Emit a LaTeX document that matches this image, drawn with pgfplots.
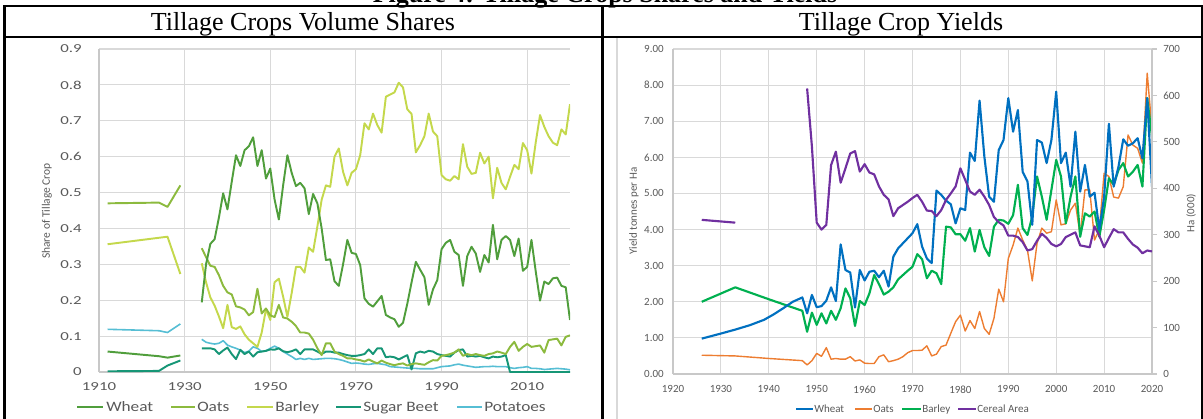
\documentclass[border=0pt]{standalone}
\usepackage{fontspec}
\setmainfont{Liberation Serif}
\newfontfamily\chartfont{Carlito}
\newfontfamily\chartwide[FakeStretch=1.38]{Carlito}
\newfontfamily\chartleg[FakeStretch=1.2]{Carlito}
\usepackage{pgfplots}
\pgfplotsset{compat=1.18}
\definecolor{gridgray}{RGB}{217,217,217}
\definecolor{axisgray}{RGB}{200,200,200}
\definecolor{labgray}{RGB}{89,89,89}
\definecolor{cWheatL}{RGB}{80,158,60}
\definecolor{cOatsL}{RGB}{140,186,62}
\definecolor{cBarleyL}{RGB}{196,216,76}
\definecolor{cBeetL}{RGB}{22,150,118}
\definecolor{cPotL}{RGB}{86,190,212}
\definecolor{cWheatR}{RGB}{0,112,192}
\definecolor{cOatsR}{RGB}{237,125,49}
\definecolor{cBarleyR}{RGB}{0,176,80}
\definecolor{cAreaR}{RGB}{112,48,160}
\newcommand\ticL{\chartwide\fontsize{9.15pt}{10pt}\selectfont}
\newcommand\legL{\chartleg\fontsize{10.8pt}{12pt}\selectfont}
\newcommand\txtR{\chartfont\fontsize{8.25pt}{9pt}\selectfont}
\begin{document}
\begin{tikzpicture}
\begin{scope}[x=0.75pt,y=0.75pt]
\useasboundingbox (0,0) rectangle (1203,418);
% caption of the figure, only its lower edge lies inside the picture
\node[anchor=base, inner sep=0pt, font=\bfseries\fontsize{19.5pt}{20pt}\selectfont] at (605,415.5) {Figure 4: Tillage Crops Shares and Yields};
% table rules
\draw[line width=1.5pt] (3,412) -- (1203,412);
\draw[line width=1.5pt] (3,381) -- (1203,381);
\draw[line width=2.5pt] (4.5,-2) -- (4.5,413);
\draw[line width=1.7pt] (602.5,-2) -- (602.5,413);
\draw[line width=1.5pt] (1201.5,-2) -- (1201.5,413);
\draw[gridgray, line width=0.8pt] (617,-2) -- (617,380);
% titles
\node[anchor=base, inner sep=0pt, font=\fontsize{19.5pt}{20pt}\selectfont] at (303,387) {Tillage Crops Volume Shares};
\node[anchor=base, inner sep=0pt, font=\fontsize{19.5pt}{20pt}\selectfont] at (901,387) {Tillage Crop Yields};
% axis titles
\node[rotate=90, inner sep=0pt, text=labgray, font=\chartfont\fontsize{8.6pt}{9pt}\selectfont] at (47,207) {Share of Tillage Crop};
\node[rotate=90, inner sep=0pt, text=labgray, font=\txtR] at (634,207) {Yield tonnes per Ha};
\node[rotate=90, inner sep=0pt, text=labgray, font=\txtR] at (1191,205) {Ha (000)};
% left legend
\draw[cWheatL, line width=1.5pt] (77,11) -- (103,11);
\node[anchor=base west, inner sep=0pt, text=labgray, font=\legL] at (106,6.4) {Wheat};
\draw[cOatsL, line width=1.5pt] (171,11) -- (195,11);
\node[anchor=base west, inner sep=0pt, text=labgray, font=\legL] at (197,6.4) {Oats};
\draw[cBarleyL, line width=1.5pt] (247,11) -- (273,11);
\node[anchor=base west, inner sep=0pt, text=labgray, font=\legL] at (275,6.4) {Barley};
\draw[cBeetL, line width=1.5pt] (336,11) -- (361,11);
\node[anchor=base west, inner sep=0pt, text=labgray, font=\legL] at (363,6.4) {Sugar Beet};
\draw[cPotL, line width=1.5pt] (457,11) -- (482,11);
\node[anchor=base west, inner sep=0pt, text=labgray, font=\legL] at (484,6.4) {Potatoes};
% right legend
\draw[cWheatR, line width=1.7pt] (796,9) -- (813,9);
\node[anchor=base west, inner sep=0pt, text=labgray, font=\txtR] at (814,5.5) {Wheat};
\draw[cOatsR, line width=1.1pt] (855,9) -- (872,9);
\node[anchor=base west, inner sep=0pt, text=labgray, font=\txtR] at (873,5.5) {Oats};
\draw[cBarleyR, line width=1.7pt] (902,9) -- (921,9);
\node[anchor=base west, inner sep=0pt, text=labgray, font=\txtR] at (922,5.5) {Barley};
\draw[cAreaR, line width=1.7pt] (958,9) -- (976,9);
\node[anchor=base west, inner sep=0pt, text=labgray, font=\txtR] at (977,5.5) {Cereal Area};
\end{scope}

% ================= LEFT PANEL =================
\begin{axis}[
  at={(74.25pt,34.5pt)}, anchor=south west,
  scale only axis, width=353.25pt, height=242.25pt,
  xmin=1910, xmax=2020, ymin=0, ymax=0.9,
  axis x line*=bottom, axis y line*=left,
  axis line style={draw=axisgray, line width=0.8pt, -},
  xtick={1910,1930,1950,1970,1990,2010},
  xticklabels={1910,1930,1950,1970,1990,2010},
  ytick={0,0.1,0.2,0.3,0.4,0.5,0.6,0.7,0.8,0.9},
  yticklabels={0,0.1,0.2,0.3,0.4,0.5,0.6,0.7,0.8,0.9},
  major tick length=0pt,
  xmajorgrids, ymajorgrids,
  grid style={draw=gridgray, line width=0.8pt},
  xticklabel style={font=\ticL, text=labgray, inner sep=0pt, anchor=north, yshift=-7.5pt},
  yticklabel style={font=\ticL, text=labgray, inner sep=0pt, anchor=east, xshift=-12.75pt},
  unbounded coords=jump,
  every axis plot/.append style={line width=1.45pt, line join=round, mark=none},
]
\addplot[cPotL, line width=1.2pt] coordinates {(1912,0.119) (1924,0.115) (1926,0.110) (1929,0.134) (1931,nan)
(1934,0.091) (1935,0.083) (1936,0.080) (1937,0.078) (1938,0.080) (1939,0.087) (1940,0.075) (1941,0.070) (1942,0.066) (1943,0.061) (1944,0.054) (1945,0.058) (1946,0.070) (1947,0.066) (1948,0.057) (1949,0.059) (1950,0.066) (1951,0.072) (1952,0.066) (1953,0.057) (1954,0.050) (1955,0.043) (1956,0.035) (1957,0.038) (1958,0.035) (1959,0.038) (1960,0.035) (1961,0.036) (1962,0.037) (1963,0.038) (1964,0.038) (1965,0.037) (1966,0.035) (1967,0.032) (1968,0.028) (1969,0.024) (1970,0.025) (1971,0.024) (1972,0.022) (1973,0.021) (1974,0.023) (1975,0.024) (1976,0.022) (1977,0.020) (1978,0.015) (1979,0.014) (1980,0.013) (1981,0.012) (1982,0.011) (1983,0.010) (1984,0.010) (1985,0.009) (1986,0.009) (1987,0.009) (1988,0.009) (1989,0.012) (1990,0.015) (1991,0.016) (1992,0.017) (1993,0.020) (1994,0.022) (1995,0.019) (1996,0.017) (1997,0.015) (1998,0.013) (1999,0.014) (2000,0.015) (2001,0.015) (2002,0.016) (2003,0.015) (2004,0.015) (2005,0.015) (2006,0.012) (2007,0.010) (2008,0.012) (2009,0.013) (2010,0.015) (2011,0.010) (2012,0.010) (2013,0.009) (2014,0.007) (2015,0.008) (2016,0.009) (2017,0.010) (2018,0.009) (2019,0.008) (2020,0.006)};
\addplot[cBeetL] coordinates {(1912,0.002) (1924,0.003) (1926,0.018) (1929,0.032) (1931,nan)
(1934,0.066) (1935,0.066) (1936,0.066) (1937,0.063) (1938,0.050) (1939,0.060) (1940,0.068) (1941,0.050) (1942,0.036) (1943,0.062) (1944,0.050) (1945,0.057) (1946,0.043) (1947,0.055) (1948,0.057) (1949,0.059) (1950,0.063) (1951,0.062) (1952,0.066) (1953,0.058) (1954,0.055) (1955,0.058) (1956,0.063) (1957,0.050) (1958,0.063) (1959,0.063) (1960,0.063) (1961,0.057) (1962,0.050) (1963,0.057) (1964,0.057) (1965,0.054) (1966,0.054) (1967,0.050) (1968,0.047) (1969,0.045) (1970,0.045) (1971,0.047) (1972,0.050) (1973,0.063) (1974,0.050) (1975,0.066) (1976,0.066) (1977,0.041) (1978,0.043) (1979,0.041) (1980,0.035) (1981,0.041) (1982,0.047) (1983,0.007) (1984,0.052) (1985,0.057) (1986,0.054) (1987,0.059) (1988,0.057) (1989,0.050) (1990,0.047) (1991,0.045) (1992,0.043) (1993,0.054) (1994,0.061) (1995,0.063) (1996,0.043) (1997,0.045) (1998,0.043) (1999,0.045) (2000,0.041) (2001,0.038) (2002,0.043) (2003,0.041) (2004,0.043) (2005,0.047) (2006,0) (2007,0) (2008,0) (2009,0) (2010,0) (2011,0) (2012,0) (2013,0) (2014,0) (2015,0) (2016,0) (2017,0) (2018,0) (2019,0) (2020,0)};
\addplot[cBarleyL] coordinates {(1912,0.356) (1926,0.377) (1929,0.273) (1931,nan)
(1934,0.303) (1935,0.250) (1936,0.208) (1937,0.185) (1938,0.155) (1939,0.122) (1940,0.187) (1941,0.125) (1942,0.120) (1943,0.127) (1944,0.105) (1945,0.090) (1946,0.080) (1947,0.070) (1948,0.110) (1949,0.175) (1950,0.145) (1951,0.250) (1952,0.260) (1953,0.210) (1954,0.154) (1955,0.220) (1956,0.293) (1957,0.293) (1958,0.277) (1959,0.347) (1960,0.335) (1961,0.405) (1962,0.480) (1963,0.520) (1964,0.516) (1965,0.600) (1966,0.623) (1967,0.558) (1968,0.520) (1969,0.555) (1970,0.565) (1971,0.604) (1972,0.693) (1973,0.676) (1974,0.720) (1975,0.688) (1976,0.667) (1977,0.767) (1978,0.773) (1979,0.779) (1980,0.806) (1981,0.793) (1982,0.732) (1983,0.719) (1984,0.612) (1985,0.632) (1986,0.657) (1987,0.720) (1988,0.670) (1989,0.657) (1990,0.549) (1991,0.537) (1992,0.533) (1993,0.546) (1994,0.537) (1995,0.635) (1996,0.572) (1997,0.552) (1998,0.555) (1999,0.611) (2000,0.581) (2001,0.600) (2002,0.484) (2003,0.569) (2004,0.527) (2005,0.509) (2006,0.544) (2007,0.577) (2008,0.565) (2009,0.638) (2010,0.618) (2011,0.553) (2012,0.640) (2013,0.716) (2014,0.683) (2015,0.657) (2016,0.639) (2017,0.632) (2018,0.676) (2019,0.662) (2020,0.746)};
\addplot[cOatsL] coordinates {(1912,0.470) (1924,0.472) (1926,0.460) (1929,0.520) (1931,nan)
(1934,0.345) (1935,0.320) (1936,0.296) (1937,0.293) (1938,0.270) (1939,0.240) (1940,0.222) (1941,0.216) (1942,0.183) (1943,0.180) (1944,0.174) (1945,0.158) (1946,0.167) (1947,0.232) (1948,0.163) (1949,0.177) (1950,0.158) (1951,0.153) (1952,0.187) (1953,0.152) (1954,0.149) (1955,0.140) (1956,0.128) (1957,0.110) (1958,0.110) (1959,0.107) (1960,0.090) (1961,0.066) (1962,0.047) (1963,0.080) (1964,0.080) (1965,0.057) (1966,0.050) (1967,0.045) (1968,0.038) (1969,0.038) (1970,0.035) (1971,0.033) (1972,0.029) (1973,0.035) (1974,0.029) (1975,0.024) (1976,0.032) (1977,0.026) (1978,0.022) (1979,0.019) (1980,0.022) (1981,0.024) (1982,0.018) (1983,0.022) (1984,0.024) (1985,0.022) (1986,0.020) (1987,0.027) (1988,0.033) (1989,0.032) (1990,0.045) (1991,0.047) (1992,0.050) (1993,0.054) (1994,0.063) (1995,0.045) (1996,0.050) (1997,0.047) (1998,0.050) (1999,0.047) (2000,0.045) (2001,0.050) (2002,0.052) (2003,0.057) (2004,0.054) (2005,0.050) (2006,0.070) (2007,0.084) (2008,0.059) (2009,0.070) (2010,0.078) (2011,0.070) (2012,0.072) (2013,0.074) (2014,0.054) (2015,0.089) (2016,0.091) (2017,0.093) (2018,0.074) (2019,0.098) (2020,0.102)};
\addplot[cWheatL] coordinates {(1912,0.057) (1924,0.044) (1926,0.040) (1929,0.046) (1931,nan)
(1934,0.194) (1935,0.300) (1936,0.357) (1937,0.370) (1938,0.430) (1939,0.498) (1940,0.453) (1941,0.530) (1942,0.604) (1943,0.574) (1944,0.618) (1945,0.629) (1946,0.654) (1947,0.574) (1948,0.618) (1949,0.539) (1950,0.567) (1951,0.481) (1952,0.425) (1953,0.520) (1954,0.604) (1955,0.555) (1956,0.518) (1957,0.527) (1958,0.512) (1959,0.440) (1960,0.496) (1961,0.470) (1962,0.400) (1963,0.312) (1964,0.314) (1965,0.253) (1966,0.240) (1967,0.300) (1968,0.368) (1969,0.332) (1970,0.329) (1971,0.298) (1972,0.205) (1973,0.190) (1974,0.182) (1975,0.197) (1976,0.212) (1977,0.159) (1978,0.152) (1979,0.147) (1980,0.126) (1981,0.137) (1982,0.190) (1983,0.250) (1984,0.307) (1985,0.285) (1986,0.264) (1987,0.187) (1988,0.230) (1989,0.256) (1990,0.342) (1991,0.360) (1992,0.368) (1993,0.335) (1994,0.326) (1995,0.240) (1996,0.323) (1997,0.349) (1998,0.330) (1999,0.279) (2000,0.326) (2001,0.305) (2002,0.410) (2003,0.314) (2004,0.368) (2005,0.379) (2006,0.368) (2007,0.323) (2008,0.372) (2009,0.282) (2010,0.293) (2011,0.368) (2012,0.280) (2013,0.199) (2014,0.252) (2015,0.245) (2016,0.261) (2017,0.263) (2018,0.240) (2019,0.236) (2020,0.145)};
\end{axis}

% ================= RIGHT PANEL =================
\begin{axis}[
  at={(504.75pt,33pt)}, anchor=south west,
  scale only axis, width=359.25pt, height=243.75pt,
  xmin=1920, xmax=2020, ymin=0, ymax=9,
  axis x line*=bottom, axis y line*=left,
  axis line style={draw=axisgray, line width=0.8pt, -},
  xtick={1920,1930,1940,1950,1960,1970,1980,1990,2000,2010,2020},
  xticklabels={1920,1930,1940,1950,1960,1970,1980,1990,2000,2010,2020},
  ytick={0,1,2,3,4,5,6,7,8,9},
  yticklabels={0.00,1.00,2.00,3.00,4.00,5.00,6.00,7.00,8.00,9.00},
  major tick length=0pt,
  xmajorgrids, ymajorgrids,
  grid style={draw=gridgray, line width=0.8pt},
  xticklabel style={font=\txtR, text=labgray, inner sep=0pt, anchor=north, yshift=-8.6pt},
  yticklabel style={font=\txtR, text=labgray, inner sep=0pt, anchor=east, xshift=-6.75pt},
  every axis plot/.append style={line width=1.6pt, line join=round, mark=none},
]
\addplot[cOatsR, line width=1.05pt] coordinates {(1926,0.52) (1933,0.50) (1940,0.43) (1947,0.37) (1948,0.25) (1949,0.37) (1950,0.57) (1951,0.49) (1952,0.73) (1953,0.41) (1954,0.43) (1955,0.41) (1956,0.41) (1957,0.48) (1958,0.36) (1959,0.39) (1960,0.30) (1961,0.29) (1962,0.29) (1963,0.48) (1964,0.53) (1965,0.34) (1966,0.37) (1967,0.41) (1968,0.48) (1969,0.59) (1970,0.65) (1971,0.65) (1972,0.66) (1973,0.78) (1974,0.50) (1975,0.55) (1976,0.76) (1977,0.80) (1978,1.13) (1979,1.45) (1980,1.63) (1981,1.19) (1982,1.48) (1983,1.26) (1984,1.73) (1985,1.26) (1986,1.10) (1987,1.54) (1988,2.35) (1989,2.00) (1990,3.20) (1991,3.57) (1992,4.04) (1993,3.71) (1994,3.43) (1995,2.58) (1996,3.62) (1997,4.04) (1998,3.90) (1999,3.94) (2000,4.82) (2001,4.13) (2002,4.16) (2003,4.54) (2004,4.73) (2005,3.85) (2006,5.10) (2007,5.10) (2008,3.71) (2009,4.00) (2010,5.56) (2011,5.47) (2012,4.90) (2013,4.87) (2014,5.19) (2015,6.62) (2016,6.34) (2017,6.25) (2018,5.84) (2019,8.33) (2020,6.76)};
\addplot[cBarleyR] coordinates {(1926,2.00) (1933,2.40) (1940,2.07) (1947,1.75) (1948,1.17) (1949,1.70) (1950,1.36) (1951,1.68) (1952,1.40) (1953,1.75) (1954,1.50) (1955,1.82) (1956,2.37) (1957,2.10) (1958,1.33) (1959,2.02) (1960,1.91) (1961,2.23) (1962,2.74) (1963,2.49) (1964,2.20) (1965,2.28) (1966,2.40) (1967,2.62) (1968,2.74) (1969,2.86) (1970,2.97) (1971,3.32) (1972,3.18) (1973,2.65) (1974,2.86) (1975,2.79) (1976,2.49) (1977,4.08) (1978,4.06) (1979,3.87) (1980,3.87) (1981,3.69) (1982,4.04) (1983,3.39) (1984,3.99) (1985,3.51) (1986,3.27) (1987,4.08) (1988,4.27) (1989,4.25) (1990,4.16) (1991,4.40) (1992,5.24) (1993,4.04) (1994,3.85) (1995,4.36) (1996,5.47) (1997,4.91) (1998,4.27) (1999,5.10) (2000,5.93) (2001,5.47) (2002,4.17) (2003,4.91) (2004,5.47) (2005,3.80) (2006,4.45) (2007,4.36) (2008,4.50) (2009,3.80) (2010,4.54) (2011,5.42) (2012,5.24) (2013,5.65) (2014,5.84) (2015,5.47) (2016,5.60) (2017,5.79) (2018,5.19) (2019,7.64) (2020,6.57)};
\addplot[cWheatR] coordinates {(1926,0.98) (1930,1.12) (1933,1.23) (1936,1.35) (1939,1.50) (1941,1.65) (1943,1.82) (1945,2.00) (1947,2.12) (1948,1.68) (1949,2.19) (1950,1.85) (1951,1.88) (1952,2.03) (1953,2.40) (1954,2.02) (1955,3.59) (1956,2.88) (1957,2.81) (1958,1.84) (1959,2.88) (1960,2.59) (1961,2.83) (1962,2.86) (1963,2.68) (1964,2.86) (1965,2.42) (1966,3.25) (1967,3.48) (1968,3.62) (1969,3.76) (1970,3.90) (1971,4.15) (1972,3.53) (1973,3.20) (1974,3.07) (1975,5.08) (1976,4.96) (1977,4.80) (1978,4.70) (1979,4.17) (1980,4.59) (1981,4.54) (1982,6.13) (1983,5.90) (1984,7.57) (1985,6.02) (1986,4.91) (1987,4.77) (1988,6.20) (1989,6.48) (1990,7.64) (1991,6.71) (1992,7.31) (1993,5.60) (1994,5.33) (1995,4.13) (1996,6.48) (1997,6.41) (1998,5.84) (1999,6.48) (2000,7.82) (2001,5.84) (2002,6.13) (2003,5.19) (2004,6.71) (2005,5.05) (2006,5.79) (2007,4.91) (2008,5.02) (2009,4.00) (2010,4.90) (2011,6.93) (2012,5.19) (2013,5.74) (2014,6.50) (2015,6.32) (2016,6.39) (2017,6.53) (2018,5.97) (2019,7.64) (2020,5.19)};
\end{axis}
\begin{axis}[
  at={(504.75pt,33pt)}, anchor=south west,
  scale only axis, width=359.25pt, height=243.75pt,
  xmin=1920, xmax=2020, ymin=0, ymax=700,
  axis x line=none, axis y line*=right,
  axis line style={draw=axisgray, line width=0.8pt, -},
  ytick={0,100,200,300,400,500,600,700},
  yticklabels={0,100,200,300,400,500,600,700},
  tick align=outside, major tick length=3.75pt,
  tick style={draw=axisgray, line width=0.8pt},
  yticklabel style={font=\txtR, text=labgray, inner sep=0pt, anchor=west, xshift=4.5pt},
  every axis plot/.append style={line width=1.6pt, line join=round, mark=none},
]
\addplot[cAreaR] coordinates {(1926,332) (1933,326)};
\addplot[cAreaR] coordinates {(1948,615) (1949,490) (1950,326) (1951,311) (1952,321) (1953,450) (1954,479) (1955,412) (1956,443) (1957,475) (1958,480) (1959,436) (1960,452) (1961,434) (1962,430) (1963,404) (1964,386) (1965,376) (1966,340) (1967,357) (1968,364) (1969,371) (1970,379) (1971,386) (1972,371) (1973,352) (1974,351) (1975,340) (1976,353) (1977,375) (1978,389) (1979,404) (1980,443) (1981,418) (1982,393) (1983,386) (1984,397) (1985,382) (1986,364) (1987,338) (1988,327) (1989,320) (1990,298) (1991,298) (1992,295) (1993,284) (1994,266) (1995,269) (1996,287) (1997,302) (1998,293) (1999,280) (2000,275) (2001,280) (2002,295) (2003,300) (2004,305) (2005,277) (2006,275) (2007,273) (2008,318) (2009,298) (2010,273) (2011,293) (2012,312) (2013,305) (2014,305) (2015,291) (2016,279) (2017,272) (2018,260) (2019,266) (2020,264)};
\end{axis}
\end{tikzpicture}
\end{document}
